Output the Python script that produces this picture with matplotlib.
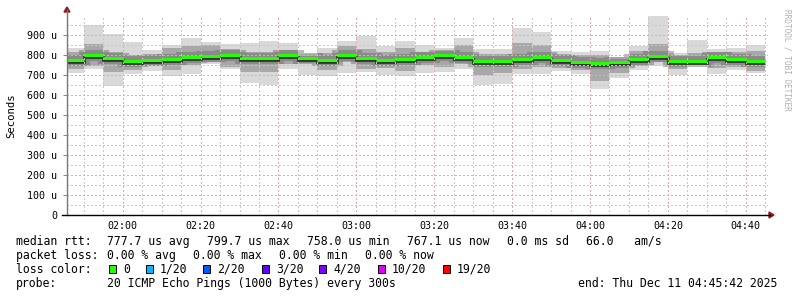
import datetime as dt
import matplotlib
matplotlib.use('Agg')
import matplotlib.pyplot as plt
import matplotlib.dates as mdates
import matplotlib.transforms as mtransforms
from matplotlib.patches import Rectangle, Polygon
from matplotlib.lines import Line2D

# ---- data (microseconds), one value per 5 min step ending 01:50 ... 04:45
rtt_max = [835, 950, 905, 865, 825, 850, 882, 865, 853, 858, 866, 857,
           803, 835, 868, 892, 843, 870, 849, 835, 882, 826, 826, 935,
           913, 820, 812, 820, 790, 841, 995, 809, 873, 827, 835, 849]
rtt_hi = [815, 855, 812, 800, 805, 835, 845, 850, 830, 815, 812, 825,
          795, 810, 845, 830, 815, 835, 815, 820, 850, 805, 805, 860,
          850, 805, 800, 800, 780, 820, 855, 800, 810, 812, 815, 820]
rtt_med = [773, 797, 784, 766, 772, 779, 790, 792, 798, 784, 784, 799.7,
           782, 774, 799, 782, 771, 777, 786, 796, 789, 766, 769, 780,
           790, 771, 764, 758, 763, 780, 795, 769, 769, 790, 776, 767.1]
rtt_lo = [728, 745, 715, 725, 745, 725, 750, 765, 740, 712, 715, 755,
          760, 725, 765, 730, 735, 720, 750, 740, 755, 700, 710, 730,
          740, 735, 725, 670, 710, 745, 765, 730, 758, 735, 740, 720]
rtt_min = [710, 729, 642, 705, 720, 696, 702, 754, 730, 657, 651, 729,
           697, 694, 710, 712, 700, 692, 710, 716, 730, 648, 653, 703,
           702, 718, 705, 630, 686, 726, 742, 697, 747, 702, 723, 710]

loss_labels = ['0', '1/20', '2/20', '3/20', '4/20', '10/20', '19/20']
loss_colors = ['#26ff00', '#00b8ff', '#0059ff', '#5e00ff', '#7e00ff', '#dd00ff', '#ff0000']

t_start = dt.datetime(2025, 12, 11, 1, 45, 42)
t_end = dt.datetime(2025, 12, 11, 4, 45, 42)
step_edges = [dt.datetime(2025, 12, 11, 1, 45) + dt.timedelta(minutes=5 * i)
              for i in range(len(rtt_med) + 1)]
edges = mdates.date2num(step_edges)

W, H = 797, 297
fig = plt.figure(figsize=(W / 100, H / 100), dpi=100)
fig.patch.set_facecolor('white')
ax = fig.add_axes([67 / W, (H - 215) / H, 701 / W, (215 - 14.6) / H])

# smoke
ax.stairs(rtt_max, edges, baseline=rtt_min, fill=True, color='#d9d9d9', lw=0, zorder=1)
ax.stairs(rtt_hi, edges, baseline=rtt_lo, fill=True, color='#a8a8a8', lw=0, zorder=1.1)
ax.stairs(rtt_med, edges, baseline=None, color='#666666', lw=8, alpha=0.45, zorder=1.2)
halo = mtransforms.offset_copy(ax.transData, fig=fig, y=-2, units='dots')
ax.stairs(rtt_med, edges, baseline=None, color='#333333', lw=2, zorder=1.5, transform=halo)
ax.hlines(rtt_med, edges[:-1], edges[1:], color=loss_colors[0], lw=2.2, zorder=3)

ax.set_xlim(mdates.date2num(t_start), mdates.date2num(t_end))
ax.set_ylim(0, 1000)

# grid
ax.xaxis.set_major_locator(mdates.MinuteLocator(byminute=[0, 20, 40]))
ax.xaxis.set_minor_locator(mdates.MinuteLocator(byminute=range(0, 60, 5)))
ax.xaxis.set_major_formatter(mdates.DateFormatter('%H:%M'))
ax.set_yticks(range(0, 1000, 100))
ax.set_yticks(range(50, 1000, 100), minor=True)
ax.yaxis.set_major_formatter(lambda v, p: '0' if v == 0 else f'{v:.0f} u')
ax.set_axisbelow(False)
ax.grid(which='major', color='#e6a8a8', lw=1, linestyle=(0, (1, 2)), antialiased=False)
ax.grid(which='minor', color='#c8c8c8', lw=1, linestyle=(0, (1, 2)), antialiased=False)

mono = 'DejaVu Sans Mono'
ax.tick_params(axis='x', which='both', length=0, pad=4, labelsize=7.2)
ax.tick_params(axis='y', which='major', length=3, width=0.7, color='#888888', pad=4, labelsize=7.2)
ax.tick_params(axis='y', which='minor', length=0)
for lab in ax.get_xticklabels() + ax.get_yticklabels():
    lab.set_family(mono)
for s in ax.spines.values():
    s.set_visible(False)

# axis lines and arrows (pixel coords)
def fx(x):
    return x / W

def fy(y):
    return 1 - y / H

fig.add_artist(Line2D([fx(67), fx(67)], [fy(215), fy(10)], color='#777777', lw=1))
fig.add_artist(Line2D([fx(62), fx(770)], [fy(215), fy(215)], color='black', lw=1))
fig.add_artist(Polygon([(fx(64), fy(12)), (fx(70), fy(12)), (fx(67), fy(7))],
                       closed=True, color='#8b1a1a'))
fig.add_artist(Polygon([(fx(769), fy(212)), (fx(769), fy(218)), (fx(774), fy(215))],
                       closed=True, color='#8b1a1a'))

fig.text(fx(11), fy(115.5), 'Seconds', rotation=90, family=mono, fontsize=7.7,
         ha='center', va='center')
fig.text(fx(787), fy(60), 'RRDTOOL / TOBI OETIKER', rotation=270, family=mono,
         fontsize=5.6, color='#b0b0b0', ha='center', va='center')

# legend
def ptext(x, y, s):
    fig.text(fx(x), fy(y), s, family=mono, fontsize=8.3, ha='left', va='center')

y1, y2, y3, y4 = 241.5, 255.2, 269.2, 283.2
ptext(16, y1, 'median rtt:')
for x, s in zip([107, 207, 307, 407, 507, 586],
                ['777.7 us avg', '799.7 us max', '758.0 us min', '767.1 us now',
                 '0.0 ms sd', '66.0   am/s']):
    ptext(x, y1, s)
ptext(16, y2, 'packet loss:')
for x, s in zip([107, 193, 279, 365],
                ['0.00 % avg', '0.00 % max', '0.00 % min', '0.00 % now']):
    ptext(x, y2, s)
ptext(16, y3, 'loss color:')
box_x = [109, 146, 203, 262, 319, 378, 442.5]
for bx, lab, col in zip(box_x, loss_labels, loss_colors):
    fig.add_artist(Rectangle((fx(bx), fy(273)), 7 / W, 8 / H, facecolor=col,
                             edgecolor='black', lw=0.7))
    ptext(bx + 14, y3, lab)
ptext(16, y4, 'probe:')
ptext(107, y4, '20 ICMP Echo Pings (1000 Bytes) every 300s')
ptext(578, y4, 'end: Thu Dec 11 04:45:42 2025')

fig.savefig('out.png', dpi=100, facecolor='white')
